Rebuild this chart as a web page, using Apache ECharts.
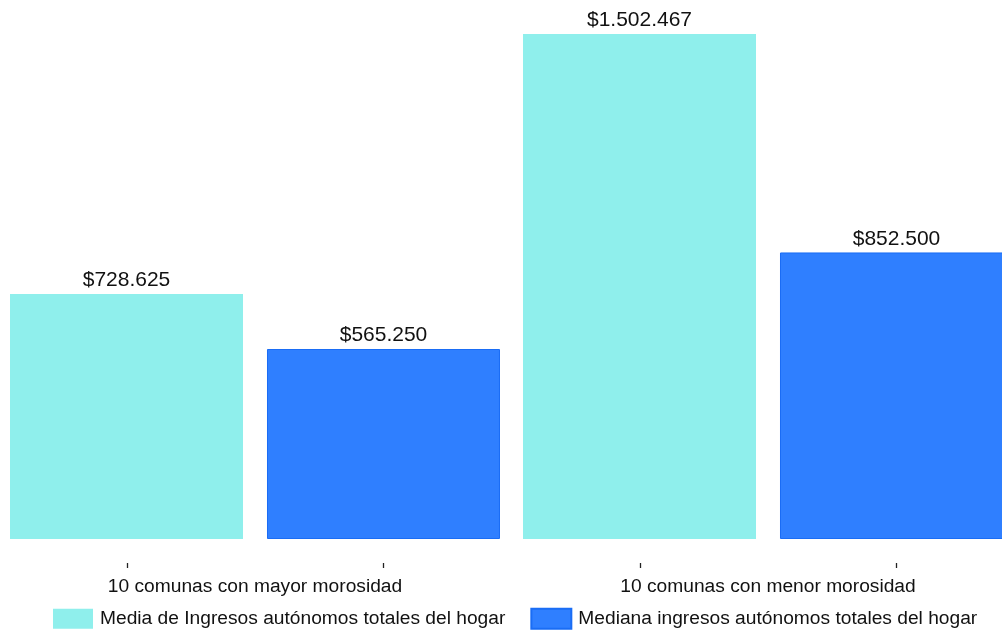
<!DOCTYPE html>
<html>
<head>
<meta charset="utf-8">
<script src="https://cdn.jsdelivr.net/npm/echarts@6/dist/echarts.min.js"></script>
<style>
html,body{margin:0;padding:0;background:#fff;}
#chart{width:1002px;height:635px;}
</style>
</head>
<body>
<div id="chart"></div>
<script>
const categories = ['10 comunas con mayor morosidad', '10 comunas con menor morosidad'];
const tickSlots = ['a', 'b', 'c', 'd'];
const seriesNames = ['Media de Ingresos autónomos totales del hogar', 'Mediana ingresos autónomos totales del hogar'];
const mediaValues = [728625, 1502467];
const medianaValues = [565250, 852500];

function fmt(v) {
  return '$' + String(Math.round(v)).replace(/\B(?=(\d{3})+(?!\d))/g, '.');
}

const chart = echarts.init(document.getElementById('chart'), null, {renderer: 'canvas'});
const font = '"Liberation Sans", Arial, Helvetica, sans-serif';
chart.setOption({
  animation: false,
  textStyle: {fontFamily: font},
  grid: {left: -1.5, width: 1026, top: 34, bottom: 96, containLabel: false, outerBoundsMode: 'none'},
  legend: {
    left: 53, top: 607.7, padding: 0,
    itemWidth: 40, itemHeight: 20, itemGap: 25,
    icon: 'rect',
    textStyle: {fontSize: 19.2, color: '#111', fontFamily: font, padding: [0, 0, 0, 2]},
    data: seriesNames
  },
  xAxis: [{
    type: 'category', data: categories, position: 'bottom', offset: 24,
    axisLine: {show: false}, axisTick: {show: false},
    axisLabel: {fontSize: 19.2, color: '#111', margin: 14, fontFamily: font}
  }, {
    type: 'category', data: tickSlots, position: 'bottom', offset: 24,
    axisLine: {show: false},
    axisTick: {show: true, alignWithLabel: true, length: 5, lineStyle: {color: '#222', width: 1.3}},
    axisLabel: {show: false}
  }],
  yAxis: {type: 'value', min: 0, max: 1502467, show: false, splitLine: {show: false}},
  series: [{
    name: seriesNames[0], type: 'bar', xAxisIndex: 0, data: mediaValues,
    barWidth: 233, barGap: '10.3%',
    itemStyle: {color: '#8FEFEC', borderColor: '#88EEEB', borderWidth: 0},
    label: {show: true, position: 'top', distance: 3, fontSize: 21, color: '#111', fontFamily: font, formatter: p => fmt(p.value)}
  }, {
    name: seriesNames[1], type: 'bar', xAxisIndex: 0, data: medianaValues,
    barWidth: 233,
    itemStyle: {color: '#2F7FFF', borderColor: '#1A6DF5', borderWidth: 1},
    label: {show: true, position: 'top', distance: 3, fontSize: 21, color: '#111', fontFamily: font, formatter: p => fmt(p.value)}
  }]
});
</script>
</body>
</html>
